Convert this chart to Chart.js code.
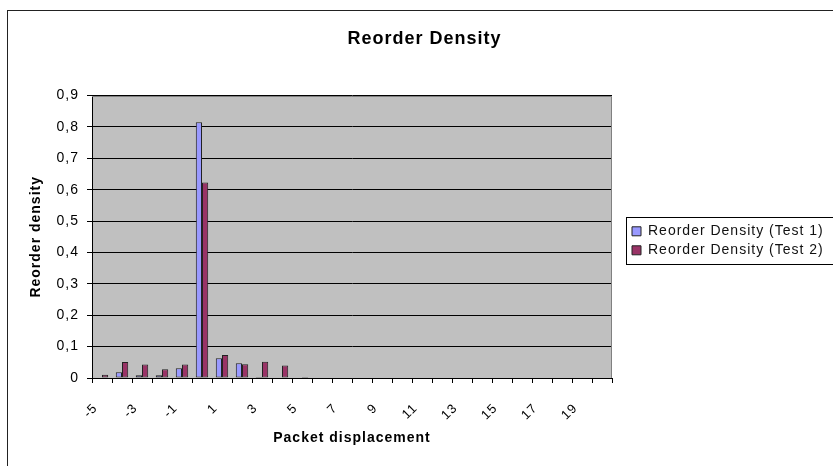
<!DOCTYPE html>
<html>
<head>
<meta charset="utf-8">
<title>Reorder Density</title>
<script src="https://cdn.jsdelivr.net/npm/chart.js@4.4.1/dist/chart.umd.min.js"></script>
<style>
  html, body { margin: 0; padding: 0; background: #fff; overflow: hidden; }
  #wrap { position: relative; width: 833px; height: 466px; overflow: hidden; }
  #frame { position: absolute; left: 7px; top: 10px; width: 900px; height: 500px; border: 1px solid #222; pointer-events: none; }
  #reorderChart { position: absolute; left: 0; top: 0; }
</style>
</head>
<body>
<div id="wrap">
  <canvas id="reorderChart" width="849" height="466"></canvas>
  <div id="frame"></div>
</div>
<script>
// datos
var categories = ['-5', '-4', '-3', '-2', '-1', '0', '1', '2', '3', '4', '5', '6', '7',
                  '8', '9', '10', '11', '12', '13', '14', '15', '16', '17', '18', '19', '20'];

var test1Values = [0, 0.018, 0.009, 0.009, 0.031, 0.815, 0.063, 0.047, 0.003, 0, 0, 0, 0,
                   0, 0, 0, 0, 0, 0, 0, 0, 0, 0, 0, 0, 0];

var test2Values = [0.01, 0.051, 0.043, 0.028, 0.043, 0.623, 0.073, 0.044, 0.052, 0.04, 0.003, 0, 0,
                   0, 0, 0, 0, 0, 0, 0, 0, 0, 0, 0, 0, 0];

var yTickLabels = ['0', '0,1', '0,2', '0,3', '0,4', '0,5', '0,6', '0,7', '0,8', '0,9'];

var fontName = "'Liberation Sans', Arial, sans-serif";

// fondo gris, bordes y ajustes estilo Excel
var excelLook = {
    id: 'excelLook',
    beforeLayout: function(chart) {
        chart.ctx.letterSpacing = '1px';
    },
    afterLayout: function(chart) {
        var area = chart.chartArea;
        // titulo centrado en todo el lienzo
        var t = chart.titleBlock;
        t.left = 0;
        t.right = chart.width;
        t.width = chart.width;
        // leyenda un poco separada de la grafica y cortada por la derecha
        var lg = chart.legend;
        lg.left = area.right + 15;
        lg.right = chart.width;
        lg.width = lg.right - lg.left;
        lg.top += 4;
        lg.bottom += 4;
    },
    beforeDraw: function(chart) {
        var ctx = chart.ctx;
        var a = chart.chartArea;
        ctx.letterSpacing = '1px';
        ctx.save();
        ctx.fillStyle = '#c0c0c0';
        ctx.fillRect(a.left, a.top, a.right - a.left, a.bottom - a.top);
        ctx.restore();
    },
    afterDraw: function(chart) {
        var ctx = chart.ctx;
        var a = chart.chartArea;
        ctx.save();
        ctx.strokeStyle = '#808080';
        ctx.lineWidth = 1;
        ctx.beginPath();
        ctx.moveTo(a.left, Math.round(a.top) + 0.5);
        ctx.lineTo(Math.round(a.right) - 0.5, Math.round(a.top) + 0.5);
        ctx.lineTo(Math.round(a.right) - 0.5, a.bottom);
        ctx.stroke();

        // marco de la leyenda
        var hb = chart.legend.legendHitBoxes;
        if (hb && hb.length) {
            var first = hb[0];
            var last = hb[hb.length - 1];
            var top = Math.round(first.top - 7) + 0.5;
            var bottom = Math.round(last.top + last.height + 7) + 0.5;
            ctx.strokeStyle = '#000';
            ctx.strokeRect(Math.round(first.left - 6) + 0.5, top, 400, bottom - top);
        }
        ctx.restore();
    }
};

var ctx = document.getElementById('reorderChart').getContext('2d');
var reorderChart = new Chart(ctx, {
    type: 'bar',
    data: {
        labels: categories,
        datasets: [{
            label: 'Reorder Density (Test 1)',
            data: test1Values,
            backgroundColor: '#9999ff',
            borderColor: '#222',
            borderWidth: 1,
            borderSkipped: false,
            categoryPercentage: 0.62,
            barPercentage: 1.0
        }, {
            label: 'Reorder Density (Test 2)',
            data: test2Values,
            backgroundColor: '#993366',
            borderColor: '#222',
            borderWidth: 1,
            borderSkipped: false,
            categoryPercentage: 0.62,
            barPercentage: 1.0
        }]
    },
    options: {
        responsive: false,
        animation: false,
        devicePixelRatio: 1,
        layout: {
            padding: { left: 10, top: 10, right: 47, bottom: 0 }
        },
        plugins: {
            title: {
                display: true,
                text: 'Reorder Density',
                color: '#000',
                font: { family: fontName, size: 18, weight: 'bold' },
                padding: { top: 18, bottom: 46 }
            },
            legend: {
                position: 'right',
                fullSize: false,
                maxWidth: 190,
                labels: {
                    boxWidth: 9,
                    boxHeight: 9,
                    padding: 5,
                    color: '#111',
                    font: { family: fontName, size: 14 }
                }
            },
            tooltip: { enabled: false }
        },
        scales: {
            x: {
                afterFit: function(scale) { scale.height = 88; },
                grid: {
                    display: true,
                    drawOnChartArea: false,
                    drawTicks: true,
                    tickLength: 5,
                    color: '#000',
                    offset: true
                },
                border: { display: true, color: '#000' },
                ticks: {
                    autoSkip: false,
                    minRotation: 45,
                    maxRotation: 45,
                    padding: 11,
                    color: '#000',
                    font: { family: fontName, size: 13 },
                    callback: function(value, index) {
                        // los espacios finales bajan la etiqueta como en Excel
                        return index % 2 === 0 ? categories[index] + '  ' : '';
                    }
                },
                title: {
                    display: true,
                    text: 'Packet displacement',
                    color: '#000',
                    font: { family: fontName, size: 14, weight: 'bold' },
                    padding: { top: 0, bottom: 19 }
                }
            },
            y: {
                min: 0,
                max: 0.9,
                afterFit: function(scale) { scale.width = 82; },
                grid: {
                    color: '#000',
                    drawTicks: true,
                    tickLength: 5
                },
                border: { display: true, color: '#000' },
                ticks: {
                    stepSize: 0.1,
                    padding: 8,
                    color: '#000',
                    font: { family: fontName, size: 14 },
                    callback: function(value, index) {
                        return yTickLabels[index];
                    }
                },
                title: {
                    display: true,
                    text: 'Reorder density',
                    color: '#000',
                    font: { family: fontName, size: 14, weight: 'bold' },
                    padding: { top: 18, bottom: 0 }
                }
            }
        }
    },
    plugins: [excelLook]
});
</script>
</body>
</html>
